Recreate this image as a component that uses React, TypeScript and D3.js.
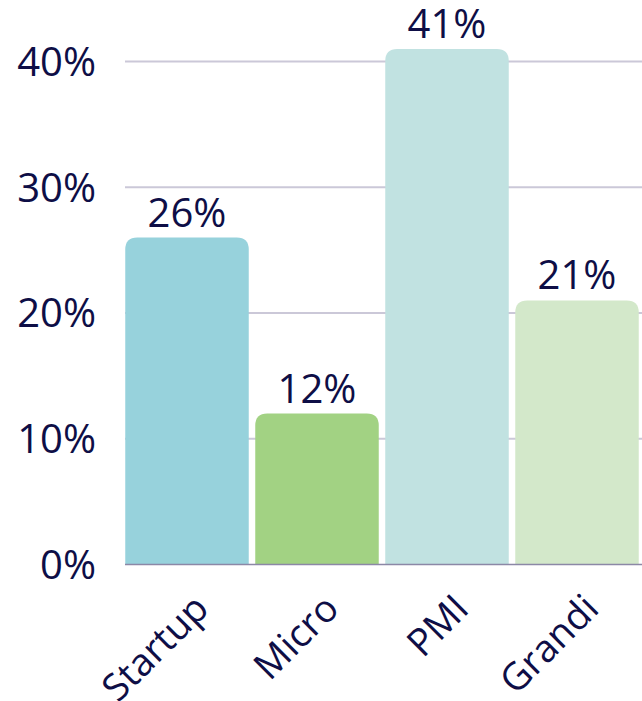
import React, { useEffect, useRef } from "react";
import * as d3 from "d3";

const categories = ["Startup", "Micro", "PMI", "Grandi"];
const values = [26, 12, 41, 21];
const colors = ["#97d2dc", "#a2d283", "#c1e2e1", "#d3e8ca"];
const yTicks = [0, 10, 20, 30, 40];

const W = 642;
const H = 701;
const TEXT = "#0e0e46";
const FONT = "'Open Sans', sans-serif";

export default function App() {
  const ref = useRef<SVGSVGElement | null>(null);

  useEffect(() => {
    document.body.style.margin = "0";
    const svg = d3.select(ref.current);
    svg.selectAll("*").remove();

    const x = d3
      .scaleBand<string>()
      .domain(categories)
      .range([122, 642])
      .paddingInner(0.05)
      .paddingOuter(0.025);
    const y = d3.scaleLinear().domain([0, 40]).range([564.5, 61.5]);

    // gridlines
    svg
      .append("g")
      .selectAll("line")
      .data(yTicks.filter((t) => t > 0))
      .join("line")
      .attr("x1", 125)
      .attr("x2", W)
      .attr("y1", (d) => y(d))
      .attr("y2", (d) => y(d))
      .attr("stroke", "#cbc8d8")
      .attr("stroke-width", 2);

    // y labels
    svg
      .append("g")
      .selectAll("text")
      .data(yTicks)
      .join("text")
      .attr("x", 96)
      .attr("y", (d) => y(d))
      .attr("dy", "0.36em")
      .attr("text-anchor", "end")
      .attr("fill", TEXT)
      .attr("font-family", FONT)
      .attr("font-size", 40)
      .text((d) => `${d}%`);

    const r = 12;
    const barPath = (d: number, i: number) => {
      const x0 = x(categories[i])!;
      const w = x.bandwidth();
      const y0 = y(d);
      const yb = y(0);
      return `M${x0},${yb}V${y0 + r}Q${x0},${y0} ${x0 + r},${y0}H${x0 + w - r}Q${x0 + w},${y0} ${x0 + w},${y0 + r}V${yb}Z`;
    };

    svg
      .append("g")
      .selectAll("path")
      .data(values)
      .join("path")
      .attr("d", (d, i) => barPath(d, i))
      .attr("fill", (_, i) => colors[i]);

    // baseline
    svg
      .append("line")
      .attr("x1", 125)
      .attr("x2", W)
      .attr("y1", y(0))
      .attr("y2", y(0))
      .attr("stroke", "#8c88a6")
      .attr("stroke-width", 1.5);

    // value labels
    svg
      .append("g")
      .selectAll("text")
      .data(values)
      .join("text")
      .attr("x", (_, i) => x(categories[i])! + x.bandwidth() / 2)
      .attr("y", (d) => y(d) - 11)
      .attr("text-anchor", "middle")
      .attr("fill", TEXT)
      .attr("font-family", FONT)
      .attr("font-size", 40)
      .text((d) => `${d}%`);

    // x labels
    svg
      .append("g")
      .selectAll("text")
      .data(categories)
      .join("text")
      .attr("transform", (d) => {
        const cx = x(d)! + x.bandwidth() / 2 + 5;
        return `translate(${cx},${592}) rotate(-45)`;
      })
      .attr("text-anchor", "end")
      .attr("dy", "0.7em")
      .attr("fill", TEXT)
      .attr("font-family", FONT)
      .attr("font-size", 38)
      .text((d) => d);
  }, []);

  return <svg ref={ref} width={W} height={H} style={{ display: "block" }} />;
}
